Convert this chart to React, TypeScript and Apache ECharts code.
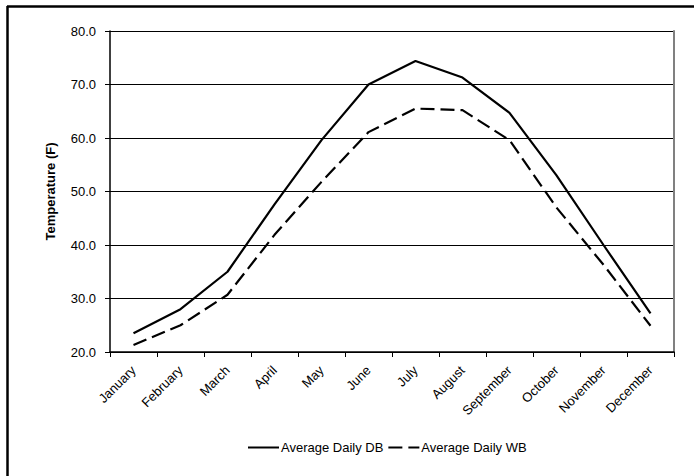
import React, { useEffect, useRef } from "react";
import * as echarts from "echarts";

const months = ["January", "February", "March", "April", "May", "June", "July", "August", "September", "October", "November", "December"];
const dbValues = [23.5, 28.0, 35.0, 47.6, 59.6, 70.0, 74.4, 71.3, 64.7, 53.0, 40.0, 27.2];
const wbValues = [21.3, 25.0, 30.7, 41.9, 51.8, 61.1, 65.5, 65.2, 59.6, 47.0, 36.3, 24.9];
const yTicks = { min: 20, max: 80, interval: 10 };

export default function App() {
  const ref = useRef<HTMLDivElement>(null);
  useEffect(() => {
    if (!ref.current) return;
    const chart = echarts.init(ref.current, undefined, { renderer: "svg" });
    const font = "'Liberation Sans', Arial, sans-serif";
    chart.setOption({
      animation: false,
      backgroundColor: "#ffffff",
      textStyle: { fontFamily: font, color: "#000" },
      graphic: [
        {
          type: "line",
          shape: { x1: 7, y1: 6.5, x2: 694, y2: 6.5 },
          style: { stroke: "#000", lineWidth: 2.5 },
          silent: true,
        },
        {
          type: "line",
          shape: { x1: 7.5, y1: 6, x2: 7.5, y2: 476 },
          style: { stroke: "#000", lineWidth: 2.5 },
          silent: true,
        },
      ],
      grid: {
        left: 110,
        top: 31,
        right: 20,
        bottom: 124,
        show: false,
      },
      legend: {
        left: 242,
        top: 436,
        itemWidth: 31,
        itemHeight: 14,
        itemGap: 4,
        itemStyle: { opacity: 0 },
        textStyle: { fontFamily: font, fontSize: 13, color: "#000", padding: [0, 0, 0, -3] },
        data: ["Average Daily DB", "Average Daily WB"],
      },
      xAxis: {
        type: "category",
        data: months,
        boundaryGap: true,
        axisLine: { show: true, lineStyle: { color: "#000", width: 1.5 } },
        axisTick: { show: true, interval: 0, length: 5, lineStyle: { color: "#000" } },
        axisLabel: { interval: 0, rotate: 45, fontSize: 13, color: "#000", fontFamily: font, margin: 16 },
        splitLine: { show: false },
      },
      yAxis: [
        {
          type: "value",
          min: yTicks.min,
          max: yTicks.max,
          interval: yTicks.interval,
          name: "Temperature (F)",
          nameLocation: "middle",
          nameGap: 53,
          nameTextStyle: { fontFamily: font, fontSize: 13, fontWeight: "bold", color: "#000" },
          axisLine: { show: true, lineStyle: { color: "#000", width: 1.5 } },
          axisTick: { show: true, length: 5, lineStyle: { color: "#000" } },
          axisLabel: {
            fontSize: 13,
            color: "#000",
            fontFamily: font,
            margin: 14,
            formatter: (v: number) => v.toFixed(1),
          },
          splitLine: { show: true, lineStyle: { color: "#000", width: 1 } },
        },
        {
          type: "value",
          position: "right",
          min: yTicks.min,
          max: yTicks.max,
          interval: yTicks.interval,
          axisLine: { show: true, lineStyle: { color: "#808080", width: 2 } },
          axisTick: { show: false },
          axisLabel: { show: false },
          splitLine: { show: false },
        },
      ],
      series: [
        {
          name: "Average Daily DB",
          type: "line",
          data: dbValues,
          symbol: "none",
          lineStyle: { color: "#000", width: 2.2, type: "solid" },
          itemStyle: { color: "#000" },
        },
        {
          name: "Average Daily WB",
          type: "line",
          data: wbValues,
          symbol: "none",
          lineStyle: { color: "#000", width: 2.2, type: [14, 6] },
          itemStyle: { color: "#000" },
        },
      ],
    });
    return () => chart.dispose();
  }, []);
  return <div ref={ref} style={{ position: "fixed", left: 0, top: 0, width: 694, height: 476 }} />;
}
